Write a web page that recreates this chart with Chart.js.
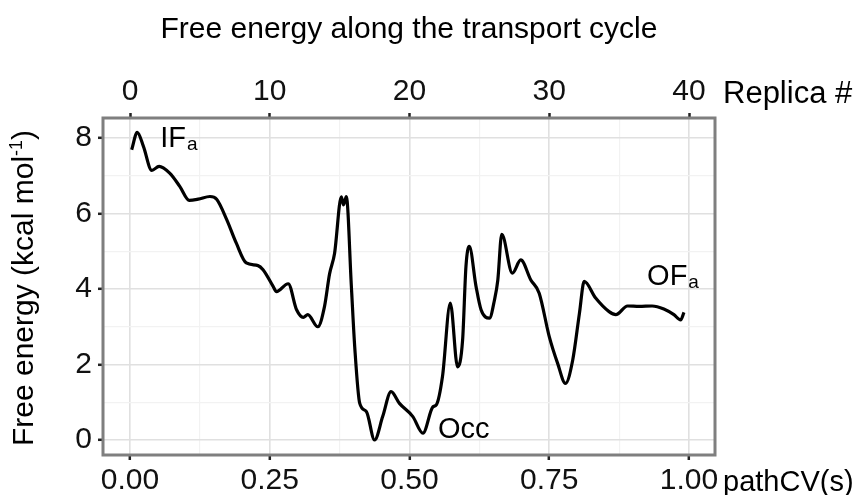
<!DOCTYPE html>
<html>
<head>
<meta charset="utf-8">
<script src="https://cdn.jsdelivr.net/npm/chart.js@4"></script>
<style>
  html, body { margin: 0; padding: 0; background: #fff; }
  #wrap { width: 861px; height: 495px; }
</style>
</head>
<body>
<div id="wrap"><canvas id="fe"></canvas></div>
<script>
// values
const pathCV = [0.003, 0.013, 0.024, 0.039, 0.052, 0.071, 0.089, 0.106, 0.122, 0.143,
  0.155, 0.173, 0.190, 0.208, 0.229, 0.238, 0.256, 0.262, 0.283, 0.298,
  0.310, 0.318, 0.336, 0.348, 0.357, 0.366, 0.378, 0.382, 0.387, 0.396,
  0.402, 0.411, 0.423, 0.4375, 0.452, 0.467, 0.482, 0.506, 0.524, 0.542,
  0.548, 0.559, 0.573, 0.586, 0.595, 0.601, 0.607, 0.619, 0.628, 0.643,
  0.652, 0.658, 0.665, 0.684, 0.699, 0.717, 0.732, 0.750, 0.765, 0.779,
  0.792, 0.804, 0.8125, 0.833, 0.857, 0.869, 0.890, 0.911, 0.934, 0.955,
  0.973, 0.985, 0.991];
const freeEnergy = [7.69, 8.15, 7.78, 7.14, 7.25, 7.07, 6.72, 6.35, 6.38, 6.45,
  6.38, 5.84, 5.22, 4.69, 4.62, 4.51, 4.07, 3.93, 4.14, 3.45,
  3.25, 3.32, 3.00, 3.54, 4.40, 4.95, 6.44, 6.23, 6.45, 4.07,
  2.47, 0.97, 0.75, 0.00, 0.62, 1.28, 0.97, 0.62, 0.18, 0.88,
  0.93, 1.68, 3.63, 1.94, 2.65, 4.60, 5.13, 4.07, 3.45, 3.23,
  3.71, 4.24, 5.45, 4.42, 4.77, 4.24, 3.89, 2.74, 2.03, 1.50,
  2.12, 3.36, 4.20, 3.76, 3.40, 3.32, 3.55, 3.54, 3.55, 3.47,
  3.32, 3.18, 3.38];

const xTicks = [0, 0.25, 0.5, 0.75, 1];
const xMinor = [0.125, 0.375, 0.625, 0.875];
const yTicks = [0, 2, 4, 6, 8];
const yMinor = [1, 3, 5, 7];
const replicaTicks = [0, 10, 20, 30, 40];
const replicaCount = 40;

const labels = [
  { text: 'IF', sub: 'a', x: 0.054, y: 7.75 },
  { text: 'Occ', sub: '', x: 0.551, y: 0.05 },
  { text: 'OF', sub: 'a', x: 0.925, y: 4.1 }
];

const FONT = "'Liberation Sans', Arial, sans-serif";
const xMin = -0.0483, xMax = 1.0465;

function withMinor(major, minor) {
  return major.map(v => ({ value: v, major: true }))
    .concat(minor.map(v => ({ value: v, major: false })))
    .sort((a, b) => a.value - b.value);
}
const isMajor = ctx => ctx.tick && ctx.tick.major;

const decor = {
  id: 'decor',
  afterDraw(chart) {
    const c = chart.ctx, a = chart.chartArea;
    const sx = chart.scales.x, sy = chart.scales.y;
    c.save();
    // panel border
    c.strokeStyle = '#7f7f7f';
    c.lineWidth = 3;
    c.strokeRect(a.left, a.top, a.right - a.left, a.bottom - a.top);

    c.fillStyle = '#000';
    c.textBaseline = 'alphabetic';
    c.textAlign = 'center';
    c.font = '30px ' + FONT;
    c.fillText('Free energy along the transport cycle', (a.left + a.right) / 2, 38);

    c.textAlign = 'left';
    c.font = '31px ' + FONT;
    c.fillText('Replica #', 723, 103);
    c.font = '29px ' + FONT;
    c.fillText('pathCV(s)', 723, 491);

    // curve labels
    labels.forEach(l => {
      const px = sx.getPixelForValue(l.x), py = sy.getPixelForValue(l.y);
      c.font = '29px ' + FONT;
      c.fillText(l.text, px, py);
      if (l.sub) {
        const w = c.measureText(l.text).width;
        c.font = '19px ' + FONT;
        c.fillText(l.sub, px + w + 1, py + 3);
      }
    });

    // y axis title with superscript
    c.translate(33, 288);
    c.rotate(-Math.PI / 2);
    const p1 = 'Free energy (kcal mol', p2 = '-1', p3 = ')';
    c.font = '30px ' + FONT;
    const w1 = c.measureText(p1).width, w3 = c.measureText(p3).width;
    c.font = '18px ' + FONT;
    const w2 = c.measureText(p2).width;
    let x0 = -(w1 + w2 + w3) / 2;
    c.font = '30px ' + FONT;
    c.fillText(p1, x0, 0);
    c.font = '18px ' + FONT;
    c.fillText(p2, x0 + w1, -11);
    c.font = '30px ' + FONT;
    c.fillText(p3, x0 + w1 + w2, 0);
    c.restore();
  }
};

new Chart(document.getElementById('fe'), {
  type: 'line',
  data: {
    datasets: [{
      data: pathCV.map((s, i) => ({ x: s, y: freeEnergy[i] })),
      borderColor: '#000',
      borderWidth: 3.2,
      pointRadius: 0,
      cubicInterpolationMode: 'monotone',
      fill: false
    }]
  },
  options: {
    responsive: true,
    maintainAspectRatio: false,
    animation: false,
    layout: { padding: { left: 0, right: 146, top: 0, bottom: 0 } },
    plugins: { legend: { display: false }, tooltip: { enabled: false }, title: { display: false } },
    scales: {
      x: {
        type: 'linear',
        position: 'bottom',
        min: xMin,
        max: xMax,
        afterBuildTicks: s => { s.ticks = withMinor(xTicks, xMinor); },
        afterFit: s => { s.height = 40; },
        border: { display: false },
        grid: {
          color: ctx => isMajor(ctx) ? '#e0e0e0' : '#f2f2f2',
          lineWidth: ctx => isMajor(ctx) ? 1.6 : 1.2,
          tickColor: ctx => isMajor(ctx) ? '#222' : 'rgba(0,0,0,0)',
          tickLength: 5,
          tickWidth: 2.5
        },
        ticks: {
          color: '#111',
          padding: 6,
          maxRotation: 0,
          autoSkip: false,
          font: { family: FONT, size: 30, lineHeight: 1 },
          callback: (v, i, t) => t[i].major ? v.toFixed(2) : ''
        }
      },
      x2: {
        type: 'linear',
        position: 'top',
        min: xMin * replicaCount,
        max: xMax * replicaCount,
        afterBuildTicks: s => { s.ticks = replicaTicks.map(v => ({ value: v })); },
        afterFit: s => { s.height = 118; },
        border: { display: false },
        grid: { drawOnChartArea: false, tickColor: '#222', tickLength: 5, tickWidth: 2.5 },
        ticks: {
          color: '#111',
          padding: 6,
          maxRotation: 0,
          autoSkip: false,
          font: { family: FONT, size: 30, lineHeight: 1 },
          callback: v => String(v)
        }
      },
      y: {
        type: 'linear',
        min: -0.397,
        max: 8.53,
        afterBuildTicks: s => { s.ticks = withMinor(yTicks, yMinor); },
        afterFit: s => { s.width = 103; },
        border: { display: false },
        grid: {
          color: ctx => isMajor(ctx) ? '#e0e0e0' : '#f2f2f2',
          lineWidth: ctx => isMajor(ctx) ? 1.6 : 1.2,
          tickColor: ctx => isMajor(ctx) ? '#222' : 'rgba(0,0,0,0)',
          tickLength: 5,
          tickWidth: 2.5
        },
        ticks: {
          color: '#111',
          padding: 6,
          autoSkip: false,
          font: { family: FONT, size: 30, lineHeight: 1 },
          callback: (v, i, t) => t[i].major ? String(v) : ''
        }
      }
    }
  },
  plugins: [decor]
});
</script>
</body>
</html>
